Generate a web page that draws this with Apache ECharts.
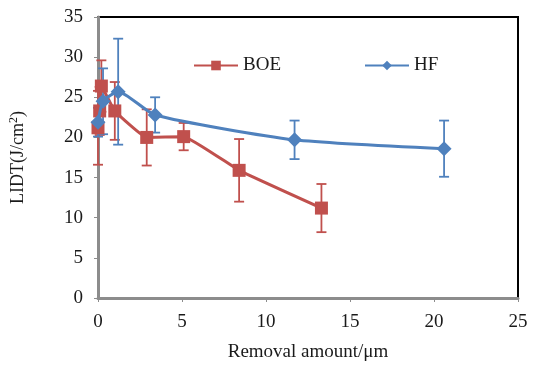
<!DOCTYPE html>
<html><head><meta charset="utf-8">
<script src="https://cdn.jsdelivr.net/npm/echarts@6/dist/echarts.min.js"></script>
<style>html,body{margin:0;padding:0;background:#fff}#c{width:533px;height:367px}</style>
</head><body><div id="c"></div>
<script>
var boeX = [0, 0.1, 0.2, 1.0, 2.9, 5.1, 8.4, 13.3];
var boeY = [21.2, 23.3, 26.4, 23.3, 20.0, 20.1, 15.9, 11.2];
var boeErr = [4.6, 3.0, 3.2, 3.6, 3.5, 1.7, 3.9, 3.0];
var hfX = [0, 0.3, 1.2, 3.4, 11.7, 20.6];
var hfY = [21.9, 24.5, 25.7, 22.8, 19.7, 18.6];
var hfErr = [1.8, 4.1, 6.6, 2.2, 2.4, 3.5];
var xTicks = [0, 5, 10, 15, 20, 25];
var yTicks = [0, 5, 10, 15, 20, 25, 30, 35];

var RED = '#C0504D', BLUE = '#4F81BD';
var FONT = '"Liberation Serif","Times New Roman",serif';
var TXT = '#1a1a1a';

function pts(xs, ys) { return xs.map(function (x, i) { return [x, ys[i]]; }); }
function errData(xs, ys, es) { return xs.map(function (x, i) { return [x, ys[i] - es[i], ys[i] + es[i]]; }); }
function errRender(color) {
  return function (params, api) {
    var lo = api.coord([api.value(0), api.value(1)]);
    var hi = api.coord([api.value(0), api.value(2)]);
    var w = 5;
    var st = { stroke: color, lineWidth: 1.8 };
    return { type: 'group', children: [
      { type: 'line', shape: { x1: lo[0], y1: lo[1], x2: hi[0], y2: hi[1] }, style: st },
      { type: 'line', shape: { x1: lo[0] - w, y1: lo[1], x2: lo[0] + w, y2: lo[1] }, style: st },
      { type: 'line', shape: { x1: hi[0] - w, y1: hi[1], x2: hi[0] + w, y2: hi[1] }, style: st }
    ]};
  };
}

var chart = echarts.init(document.getElementById('c'));
chart.setOption({
  animation: false,
  textStyle: { fontFamily: FONT },
  grid: { left: 98, right: 15, top: 17, bottom: 69, show: true, borderColor: '#000', borderWidth: 2, backgroundColor: 'transparent' },
  legend: {
    left: 188, top: 51, itemWidth: 44, itemHeight: 12, itemGap: 83,
    textStyle: { fontFamily: FONT, fontSize: 19, color: TXT },
    data: ['BOE', 'HF']
  },
  xAxis: {
    type: 'value', min: xTicks[0], max: xTicks[xTicks.length - 1], interval: 5,
    name: 'Removal amount/\u03bcm', nameLocation: 'middle', nameGap: 45,
    nameTextStyle: { fontFamily: FONT, fontSize: 19, color: TXT },
    axisLine: { show: true, onZero: false, lineStyle: { color: '#8c8c8c', width: 3 } },
    axisTick: { show: true, length: 4, lineStyle: { color: '#8c8c8c', width: 1 } },
    axisLabel: { fontFamily: FONT, fontSize: 19, color: TXT, margin: 15 },
    splitLine: { show: false }
  },
  yAxis: {
    type: 'value', min: yTicks[0], max: yTicks[yTicks.length - 1], interval: 5,
    name: '{a|LIDT(J/cm}{s|2}{a|)}', nameLocation: 'middle', nameGap: 70, nameRotate: 90,
    nameTextStyle: { fontFamily: FONT, fontSize: 18, color: TXT,
      rich: { a: { fontFamily: FONT, fontSize: 18, color: TXT }, s: { fontFamily: FONT, fontSize: 12, color: TXT, verticalAlign: 'top', padding: [0, 0, 8, 0] } } },
    axisLine: { show: true, lineStyle: { color: '#8c8c8c', width: 3 } },
    axisTick: { show: true, length: 4, lineStyle: { color: '#8c8c8c', width: 1 } },
    axisLabel: { fontFamily: FONT, fontSize: 19, color: TXT, margin: 15 },
    splitLine: { show: false }
  },
  series: [
    { type: 'custom', name: 'BOEerr', renderItem: errRender(RED), data: errData(boeX, boeY, boeErr), z: 1, encode: { x: 0, y: [1, 2] } },
    { type: 'custom', name: 'HFerr', renderItem: errRender(BLUE), data: errData(hfX, hfY, hfErr), z: 1, encode: { x: 0, y: [1, 2] } },
    { type: 'line', name: 'BOE', data: pts(boeX, boeY), smooth: 0.1, symbol: 'rect', symbolSize: 13,
      itemStyle: { color: RED }, lineStyle: { color: RED, width: 3 }, z: 3 },
    { type: 'line', name: 'HF', data: pts(hfX, hfY), smooth: 0.2, symbol: 'diamond', symbolSize: 15,
      itemStyle: { color: BLUE }, lineStyle: { color: BLUE, width: 3 }, z: 4 }
  ]
});
</script></body></html>
